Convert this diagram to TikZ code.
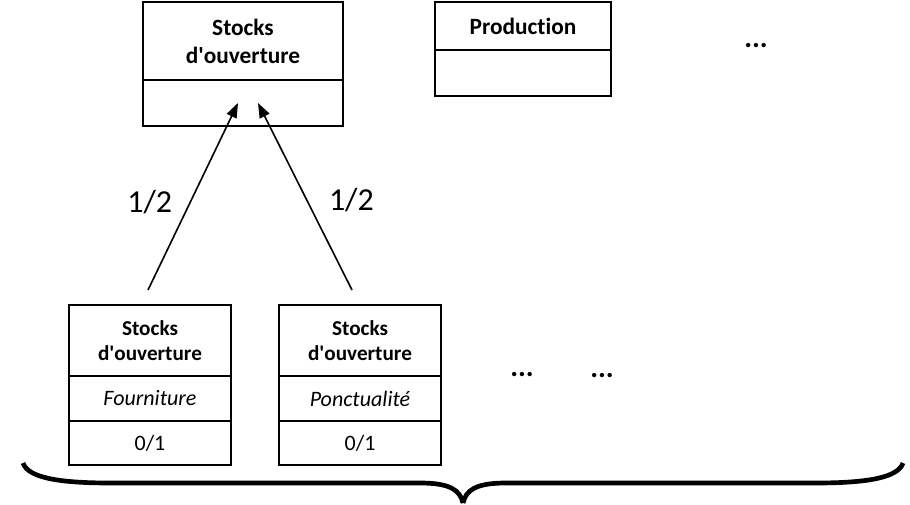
\documentclass[tikz,border=0pt]{standalone}
\usepackage{fontspec}
\setmainfont{Carlito}[Ligatures=NoCommon]
\usetikzlibrary{positioning,arrows.meta}

\begin{document}
\begin{tikzpicture}[
          x=0.75pt, y=-0.75pt,
          cell/.style={draw, line width=1.6pt, inner sep=0pt, outer sep=0pt, align=center},
          bigtitle/.style={cell, font=\fontsize{17.5}{21}\selectfont\bfseries},
          smalltitle/.style={cell, font=\fontsize{15.9}{19}\selectfont\bfseries},
          critname/.style={cell, font=\fontsize{16.5}{19.8}\selectfont\itshape},
          critval/.style={cell, font=\fontsize{16.5}{19.8}\selectfont},
          dots/.style={inner sep=0pt, font=\fontsize{22}{26}\selectfont\bfseries},
          weight/.style={inner sep=0pt, font=\fontsize{24}{28}\selectfont},
          link/.style={line width=1.2pt, -{Triangle[length=11pt, width=8pt]}}
        ]
        \useasboundingbox (0,0) rectangle (910,505);

        % Top row
        \node[bigtitle, minimum width=150pt, minimum height=58.5pt] (o1) at (243,41) {Stocks\\d\textquotesingle ouverture};
        \node[cell, minimum width=150pt, minimum height=34.5pt, below=0pt of o1] (o2) {};
        \node[bigtitle, minimum width=132pt, minimum height=36pt] (p1) at (523,26) {Production};
        \node[cell, minimum width=132pt, minimum height=34.5pt, below=0pt of p1] (p2) {};
        \node[dots] (d1) at (756,46) {...};

        % Bottom row
        \node[smalltitle, minimum width=122pt, minimum height=53.25pt] (f1) at (150,340.5) {Stocks\\d\textquotesingle ouverture};
        \node[critname, minimum width=122pt, minimum height=33.75pt, below=0pt of f1] (f2) {Fourniture};
        \node[critval, minimum width=122pt, minimum height=33pt, below=0pt of f2] (f3) {0/1};

        \node[smalltitle, minimum width=122pt, minimum height=53.25pt] (c1) at (360,340.5) {Stocks\\d\textquotesingle ouverture};
        \node[critname, minimum width=122pt, minimum height=33.75pt, below=0pt of c1] (c2) {Ponctualité};
        \node[critval, minimum width=122pt, minimum height=33pt, below=0pt of c2] (c3) {0/1};

        \node[dots] (d2) at (522,375) {...};
        \node[dots] (d3) at (602,376) {...};

        % Weighted arrows
        \coordinate[above=11.25pt of f1.north, xshift=-1.5pt] (a1);
        \coordinate[above=11.25pt of c1.north, xshift=-6pt] (a2);
        \coordinate[xshift=-3.75pt] (t1) at (o2.center);
        \coordinate[xshift=11.25pt] (t2) at (o2.center);
        \draw[link] (a1) -- node[weight, pos=0.47, left=13pt] {1/2} (t1);
        \draw[link] (a2) -- node[weight, pos=0.48, right=16pt] {1/2} (t2);

        % Brace
        \draw[line width=3.5pt] (23,463) .. controls (28,478) and (60,483) .. (110,483) -- (420,483)
          .. controls (450,483) and (460,490) .. (463,503);
        \draw[line width=3.5pt] (903,463) .. controls (898,478) and (866,483) .. (816,483) -- (506,483)
          .. controls (476,483) and (466,490) .. (463,503);

      \end{tikzpicture}
\end{document}
